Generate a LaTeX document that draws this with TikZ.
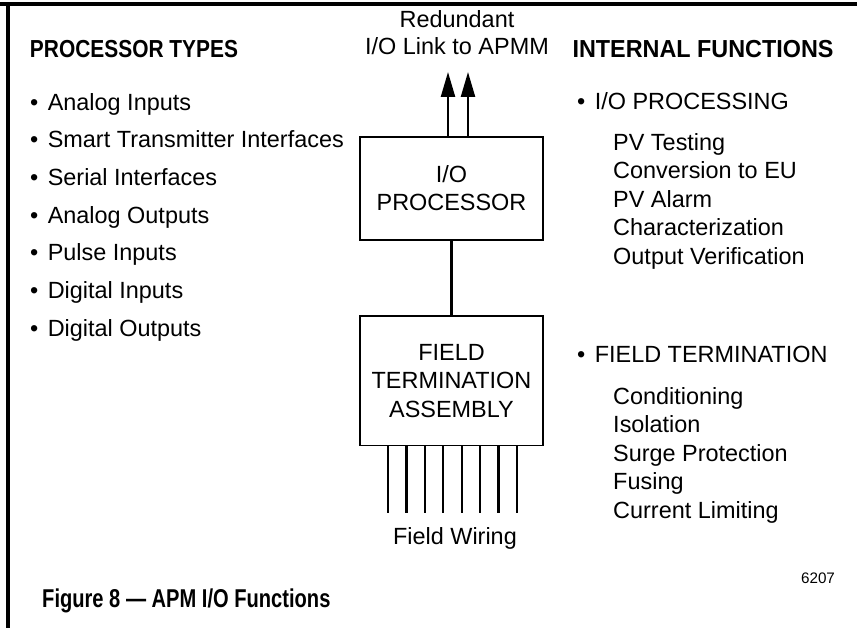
\documentclass[tikz,border=0pt]{standalone}
\usepackage{fontspec}
\setmainfont{Liberation Sans}
\usetikzlibrary{positioning,arrows.meta}

\begin{document}
\begin{tikzpicture}[x=0.03cm, y=-0.03cm,
	every node/.style={font=\fontsize{20}{24}\selectfont, inner sep=0pt},
	box/.style={draw, line width=1.7pt, minimum width=5.49cm, align=center},
	item/.style={anchor=mid west},
	head/.style={font=\fontsize{21}{25}\selectfont\bfseries},
	link/.style={line width=2pt, -{Triangle[width=0.42cm, length=0.75cm]}},
	wire/.style={line width=2pt}]
	\useasboundingbox (0,0) rectangle (857,628);
	% frame
	\draw[line width=2.6pt] (0,4) -- (857,4);
	\draw[line width=2.6pt] (8,4) -- (8,628);
	% titles
	\node (redund) at (457,19) {Redundant};
	\node (apmm) at (457,46) {I/O Link to APMM};
	\node[head] (ptypes) at (134,49) {\scalebox{0.85}[1]{PROCESSOR TYPES}};
	\node[head] (ifuncs) at (703,49) {\scalebox{0.95}[1]{INTERNAL FUNCTIONS}};
	% boxes
	\node[box, minimum height=3.09cm] (iop) at (451.5,188.5) {I/O\\PROCESSOR};
	\node[box, minimum height=3.87cm] (fta) at (451.5,381) {FIELD\\TERMINATION\\ASSEMBLY};
	\draw[line width=2pt] (iop) -- (fta);
	\coordinate (up1) at (448,72);
	\coordinate (up2) at (468,72);
	\draw[link] (up1 |- iop.north) -- (up1);
	\draw[link] (up2 |- iop.north) -- (up2);
	% field wiring
	\foreach \i in {0,...,7}{
		\coordinate (w\i) at (388+18.43*\i,513);
		\draw[wire] (w\i |- fta.south) -- (w\i);
	}
	\node (wiring) at (455,538) {Field Wiring};
	% processor types
	\foreach \t [count=\k from 0] in {Analog Inputs, Smart Transmitter Interfaces,
		Serial Interfaces, Analog Outputs, Pulse Inputs, Digital Inputs, Digital Outputs}{
		\node[item] (pt\k) at (30,107+37.7*\k) {\textbullet\hspace{8pt}\t};
	}
	% internal functions
	\node[item] (iopr) at (577,106) {\textbullet\hspace{8pt}I/O PROCESSING};
	\foreach \t [count=\k from 0] in {PV Testing, Conversion to EU, PV Alarm,
		Characterization, Output Verification}{
		\node[item] (io\k) at (613,147+28.5*\k) {\t};
	}
	\node[item] (ftrm) at (577,359) {\textbullet\hspace{8pt}FIELD TERMINATION};
	\foreach \t [count=\k from 0] in {Conditioning, Isolation, Surge Protection,
		Fusing, Current Limiting}{
		\node[item] (ft\k) at (613,401+28.5*\k) {\t};
	}
	% caption
	\node[font=\fontsize{13}{15}\selectfont] (num) at (818,578) {6207};
	\node[anchor=mid west, font=\fontsize{22}{26}\selectfont\bfseries] (fig) at (42,604)
		{\scalebox{0.78}[1]{Figure 8 --- APM I/O Functions}};
\end{tikzpicture}
\end{document}
